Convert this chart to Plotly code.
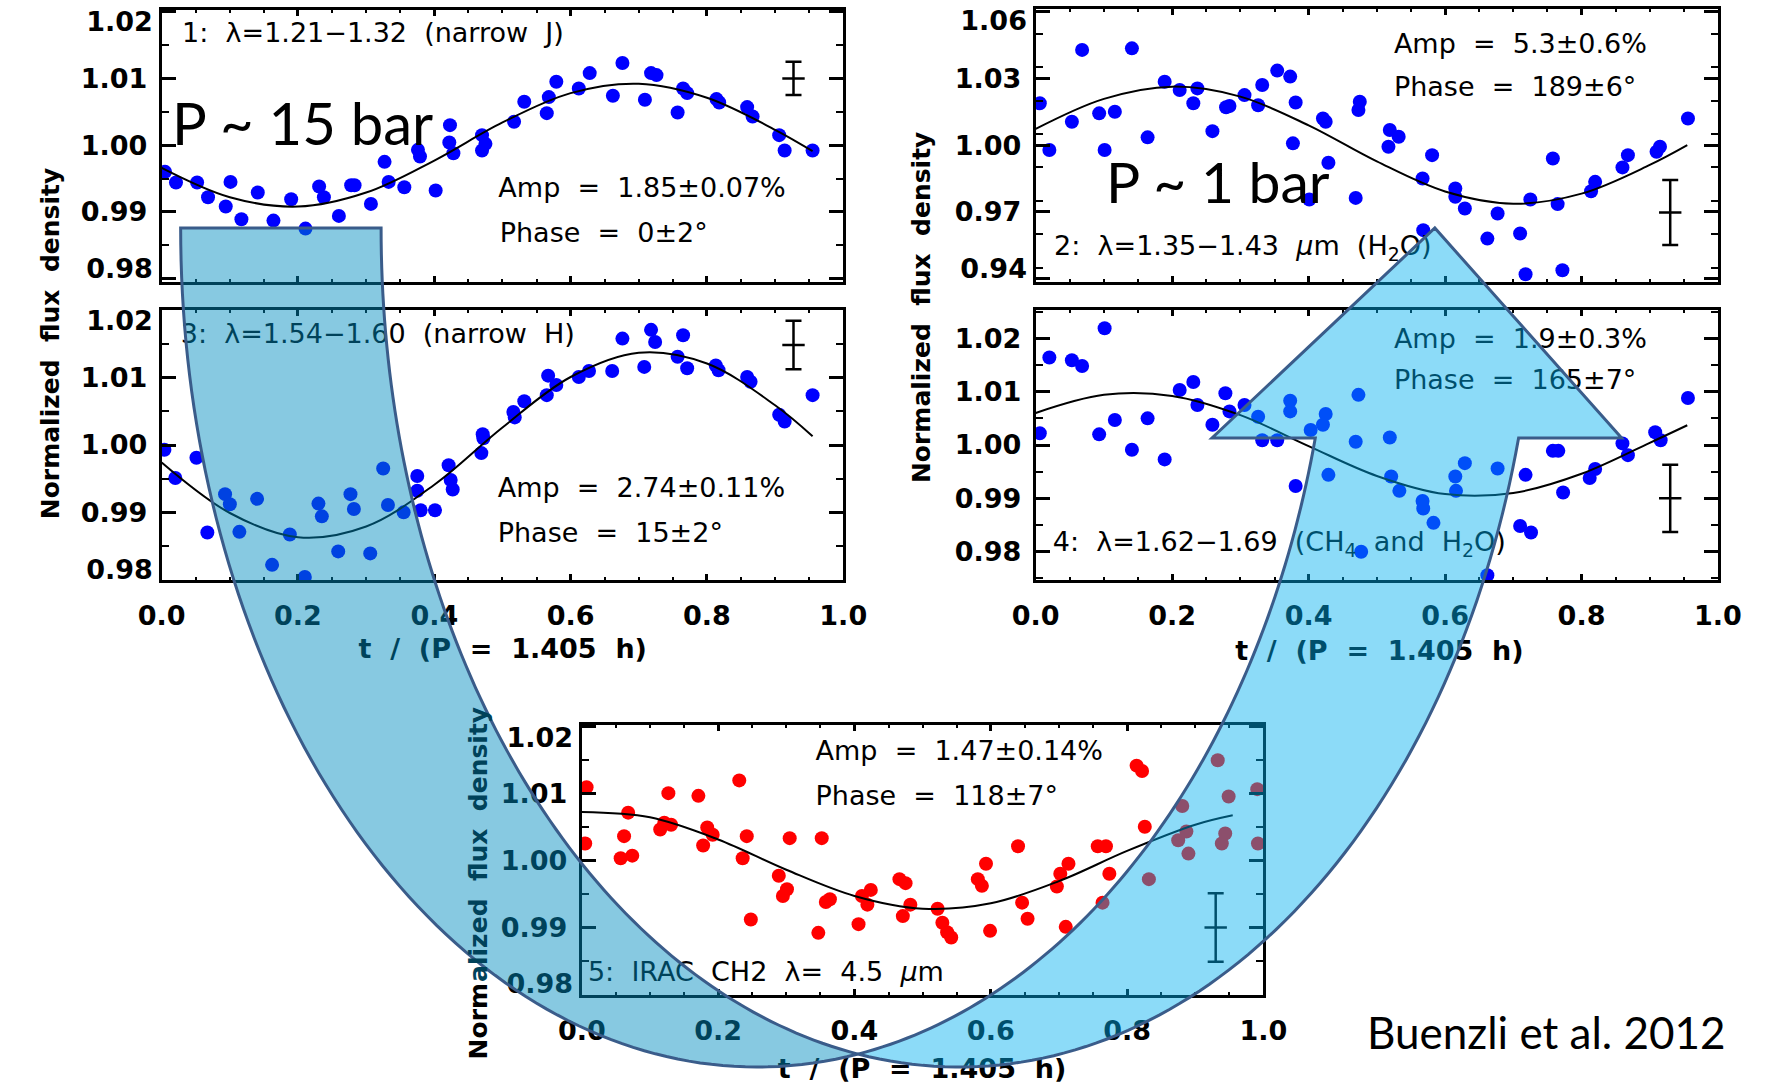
import numpy as np
import plotly.graph_objects as go

W, H = 1777, 1087

# ---------------- data ----------------
# panel 1: lambda = 1.21-1.32 (narrow J)
p1_t = [0.005,0.021,0.052,0.068,0.094,0.101,0.117,0.141,0.164,0.190,0.211,0.231,0.238,0.260,0.278,0.283,0.307,0.327,0.333,0.356,
        0.376,0.379,0.402,0.423,0.422,0.428,0.470,0.470,0.475,0.517,0.532,0.565,0.568,0.579,0.612,0.628,0.662,0.676,0.709,0.718,
        0.726,0.757,0.765,0.771,0.814,0.818,0.859,0.867,0.906,0.914,0.955]
p1_f = [0.9960,0.9944,0.9944,0.9922,0.9908,0.9945,0.9889,0.9929,0.9887,0.9919,0.9875,0.9938,0.9922,0.9894,0.9940,0.9940,0.9912,0.9975,0.9945,0.9937,
        0.9993,0.9983,0.9932,1.0030,1.0004,0.9988,1.0015,0.9992,1.0002,1.0035,1.0065,1.0048,1.0072,1.0095,1.0085,1.0108,1.0074,1.0123,1.0068,1.0108,
        1.0105,1.0049,1.0085,1.0078,1.0069,1.0064,1.0057,1.0043,1.0015,0.9992,0.9992]
# panel 2: lambda = 1.35-1.43 um (H2O)
p2_t = [0.006,0.020,0.053,0.068,0.093,0.101,0.116,0.141,0.164,0.189,0.211,0.231,0.237,0.259,0.279,0.284,0.306,0.326,0.332,0.354,
        0.373,0.377,0.381,0.401,0.421,0.425,0.429,0.469,0.473,0.475,0.519,0.517,0.532,0.567,0.568,0.581,0.615,0.615,0.629,0.662,
        0.677,0.710,0.718,0.725,0.758,0.765,0.772,0.814,0.820,0.860,0.868,0.910,0.915,0.956]
p2_f = [1.0188,0.9978,1.0105,1.0428,1.0143,0.9978,1.0150,1.0435,1.0035,1.0285,1.0248,1.0188,1.0255,1.0063,1.0170,1.0176,1.0225,1.0179,1.0270,1.0335,
        1.0308,1.0008,1.0192,0.9756,1.0120,1.0105,0.9921,0.9763,1.0158,1.0195,1.0068,0.9993,1.0038,0.9850,0.9618,0.9955,0.9805,0.9768,0.9715,0.9580,
        0.9693,0.9603,0.9420,0.9756,0.9940,0.9735,0.9438,0.9793,0.9835,0.9900,0.9955,0.9970,0.9993,1.0120]
# panel 3: lambda = 1.54-1.60 (narrow H)
p3_t = [0.004,0.020,0.051,0.067,0.093,0.100,0.114,0.140,0.162,0.188,0.210,0.230,0.235,0.259,0.277,0.282,0.306,0.325,0.332,0.355,
        0.375,0.375,0.380,0.401,0.421,0.424,0.427,0.469,0.471,0.472,0.516,0.518,0.532,0.565,0.567,0.579,0.612,0.627,0.661,0.676,
        0.708,0.718,0.724,0.757,0.765,0.771,0.813,0.817,0.859,0.864,0.906,0.914,0.955]
p3_f = [0.9993,0.9951,0.9981,0.9870,0.9927,0.9912,0.9871,0.9920,0.9822,0.9867,0.9804,0.9913,0.9894,0.9842,0.9927,0.9905,0.9839,0.9965,0.9911,0.9900,
        0.9954,0.9932,0.9903,0.9903,0.9970,0.9948,0.9934,0.9988,1.0016,1.0010,1.0049,1.0041,1.0065,1.0074,1.0103,1.0089,1.0101,1.0110,1.0110,1.0158,
        1.0116,1.0171,1.0153,1.0131,1.0163,1.0114,1.0118,1.0111,1.0101,1.0094,1.0045,1.0035,1.0074]
# panel 4: lambda = 1.62-1.69 (CH4 and H2O)
p4_t = [0.006,0.020,0.053,0.068,0.093,0.101,0.116,0.141,0.164,0.189,0.211,0.231,0.237,0.259,0.278,0.284,0.306,0.326,0.332,0.354,
        0.373,0.373,0.381,0.403,0.421,0.425,0.429,0.469,0.473,0.477,0.519,0.521,0.533,0.567,0.568,0.583,0.615,0.616,0.629,0.662,
        0.677,0.710,0.718,0.726,0.758,0.766,0.773,0.812,0.820,0.860,0.868,0.908,0.916,0.956]
p4_f = [1.0022,1.0164,1.0159,1.0148,1.0020,1.0219,1.0047,0.9991,1.0050,0.9973,1.0103,1.0118,1.0075,1.0038,1.0097,1.0063,1.0075,1.0053,1.0009,1.0009,
        1.0083,1.0063,0.9923,1.0028,1.0038,1.0058,0.9944,1.0006,1.0094,0.9800,1.0014,0.9941,0.9914,0.9895,0.9881,0.9854,0.9941,0.9914,0.9966,0.9756,
        0.9956,0.9848,0.9944,0.9836,0.9989,0.9989,0.9911,0.9938,0.9955,1.0003,0.9981,1.0024,1.0009,1.0088]
# panel 5: IRAC CH2 4.5 um
p5_t = [0.007,0.005,0.057,0.062,0.068,0.074,0.115,0.121,0.127,0.131,0.171,0.178,0.184,0.192,0.231,0.236,0.242,0.248,0.289,0.295,
        0.301,0.305,0.347,0.352,0.358,0.364,0.406,0.411,0.419,0.424,0.466,0.475,0.471,0.482,0.522,0.529,0.536,0.542,0.581,0.587,
        0.593,0.599,0.640,0.646,0.654,0.697,0.702,0.710,0.714,0.757,0.764,0.769,0.774,0.814,0.822,0.826,0.832,0.875,0.881,0.887,
        0.890,0.933,0.939,0.944,0.949,0.991,0.992]
p5_f = [1.0109,1.0025,1.0003,1.0036,1.0071,1.0007,1.0046,1.0056,1.0100,1.0053,1.0096,1.0022,1.0049,1.0038,1.0119,1.0003,1.0036,0.9912,0.9977,0.9947,
        0.9957,1.0033,0.9892,1.0033,0.9938,0.9942,0.9905,0.9947,0.9934,0.9956,0.9972,0.9966,0.9917,0.9934,0.9928,0.9907,0.9893,0.9885,0.9972,0.9962,
        0.9995,0.9895,1.0021,0.9937,0.9913,0.9961,0.9980,0.9901,0.9995,1.0021,0.9937,1.0021,0.9980,1.0141,1.0133,1.0050,0.9972,1.0030,1.0081,1.0043,
        1.0010,1.0149,1.0025,1.0040,1.0095,1.0106,1.0025]

# fitted curves, read at these phases
fit_t = [0.0, 0.1, 0.2, 0.3, 0.4, 0.5, 0.6, 0.7, 0.8, 0.9, 0.955]
fit1 = [0.9966,0.9922,0.9908,0.9929,0.9977,1.0034,1.0078,1.0092,1.0071,1.0023,0.9991]
fit2 = [1.0073,1.0208,1.0263,1.0218,1.0089,0.9927,0.9792,0.9737,0.9782,0.9911,1.0000]
fit3 = [0.9974,0.9899,0.9863,0.9879,0.9941,1.0026,1.0101,1.0137,1.0121,1.0059,1.0013]
fit4 = [1.0060,1.0094,1.0092,1.0056,0.9998,0.9942,0.9908,0.9910,0.9946,1.0004,1.0037]
fit5 = [1.0072,1.0064,1.0031,0.9986,0.9947,0.9928,0.9936,0.9969,1.0014,1.0053,1.0067]

# typical error bars (x, centre, half-length)
err_x = [0.927, 0.930, 0.927, 0.930, 0.930]
err_y = [1.0100, 0.9697, 1.01485, 0.9900, 0.9900]
err_h = [0.0025, 0.0146, 0.0036, 0.0063, 0.0051]

# panel labels
band_labels = ["1:  λ=1.21−1.32  (narrow  J)",
               "2:  λ=1.35−1.43  <i>μ</i>m  (H<sub>2</sub>O)",
               "3:  λ=1.54−1.60  (narrow  H)",
               "4:  λ=1.62−1.69  (CH<sub>4</sub>  and  H<sub>2</sub>O)",
               "5:  IRAC  CH2  λ=  4.5  <i>μ</i>m"]
amp_labels = ["Amp  =  1.85±0.07%", "Amp  =  5.3±0.6%", "Amp  =  2.74±0.11%",
              "Amp  =  1.9±0.3%", "Amp  =  1.47±0.14%"]
phase_labels = ["Phase  =  0±2°", "Phase  =  189±6°", "Phase  =  15±2°",
                "Phase  =  165±7°", "Phase  =  118±7°"]
band_pos = [(0.030, 1.0165), (0.027, 0.9535), (0.028, 1.0161), (0.025, 0.98137), (0.009, 0.98302)]
amp_pos = [(0.494, 0.99325), (0.525, 1.04425), (0.493, 0.99332), (0.525, 1.01938), (0.343, 1.01594)]
phase_pos = [(0.496, 0.98650), (0.525, 1.02505), (0.493, 0.98653), (0.525, 1.01175), (0.343, 1.00926)]

x_title = "t  /  (P  =  1.405  h)"
y_title = "Normalized  flux  density"

x_ticks = [0.0, 0.2, 0.4, 0.6, 0.8, 1.0]
y_ticks = [[0.98, 0.99, 1.00, 1.01, 1.02], [0.94, 0.97, 1.00, 1.03, 1.06], [0.98, 0.99, 1.00, 1.01, 1.02],
           [0.98, 0.99, 1.00, 1.01, 1.02], [0.98, 0.99, 1.00, 1.01, 1.02]]
y_ranges = [[0.9795, 1.02025], [0.9385, 1.06105], [0.97995, 1.02005], [0.97469, 1.02531], [0.97995, 1.02015]]
y_minor = [0.005, 0.015, 0.005, 0.005, 0.005]
# the end labels sit a little inside the frame (pixels, +down) where the end tick is on the frame
edge_shift = [(13, -7), (12, -7), (13, -7), None, (14, -8)]

# ---------------- layout geometry (pixels of the 1777x1087 page) ----------------
boxes = [  # (left, right, top, bottom)
    (141.5, 842.0, 10.0, 282.0),
    (1039.8, 1741.0, 9.3, 282.0),
    (141.5, 842.0, 310.0, 580.0),
    (1039.8, 1741.0, 310.0, 580.0),
    (573.3, 1273.8, 725.0, 995.0),
]
# x-title centres (page pixels), drawn in a page-sized overlay so the arrow tints them
x_title_px = [(492, 651), (1393, 653), (923, 1071)]

def px(x):
    return x / W

def py(y):
    return 1 - y / H

FONT = "DejaVu Sans"
TICKFONT = dict(family=FONT, size=27, color='black', weight='bold')
series = [(p1_t, p1_f, fit1, 'rgb(0,0,255)'), (p2_t, p2_f, fit2, 'rgb(0,0,255)'),
          (p3_t, p3_f, fit3, 'rgb(0,0,255)'), (p4_t, p4_f, fit4, 'rgb(0,0,255)'),
          (p5_t, p5_f, fit5, 'rgb(255,0,0)')]

fig = go.Figure()
layout_axes = {}
edge_x, edge_y, edge_txt = [], [], []
for i, (t, f, fit, col) in enumerate(series):
    n = i + 1
    xa = 'x' if n == 1 else f'x{n}'
    ya = 'y' if n == 1 else f'y{n}'
    fig.add_trace(go.Scatter(x=t, y=f, mode='markers', xaxis=xa, yaxis=ya,
                             marker=dict(color=col, size=14, line=dict(width=0)),
                             showlegend=False, hoverinfo='skip'))
    fig.add_trace(go.Scatter(x=fit_t, y=fit, mode='lines', xaxis=xa, yaxis=ya,
                             line=dict(color='black', width=2, shape='spline'),
                             showlegend=False, hoverinfo='skip'))
    fig.add_trace(go.Scatter(x=[err_x[i]], y=[err_y[i]], mode='markers', xaxis=xa, yaxis=ya,
                             marker=dict(symbol='line-ew', size=16, color='black',
                                         line=dict(width=2.5, color='black')),
                             error_y=dict(type='data', array=[err_h[i]], visible=True,
                                          color='black', thickness=2.5, width=8),
                             showlegend=False, hoverinfo='skip'))
    fig.add_trace(go.Scatter(
        x=[band_pos[i][0], amp_pos[i][0], phase_pos[i][0]],
        y=[band_pos[i][1], amp_pos[i][1], phase_pos[i][1]],
        text=[band_labels[i], amp_labels[i], phase_labels[i]],
        mode='text', textposition='middle right', xaxis=xa, yaxis=ya,
        textfont=dict(family=FONT, size=27, color='black'),
        cliponaxis=False, showlegend=False, hoverinfo='skip'))

    l, r, tp, bt = boxes[i]
    lo_r, hi_r = y_ranges[i]
    yt = y_ticks[i]
    ytext = [f"{v:.2f}" for v in yt]
    if edge_shift[i] is not None:
        # inner labels by the axis; the two end labels are placed just inside
        ytext_axis = [""] + ytext[1:-1] + [""]
        for v, s, lab in [(yt[-1], edge_shift[i][0], ytext[-1]), (yt[0], edge_shift[i][1], ytext[0])]:
            edge_x.append(l - 9)
            edge_y.append(tp + (hi_r - v) / (hi_r - lo_r) * (bt - tp) + s)
            edge_txt.append(lab)
    else:
        ytext_axis = ytext
    axis_common = dict(showline=True, linewidth=3, linecolor='black', mirror='ticks',
                       ticks='inside', tickcolor='black', showgrid=False, zeroline=False,
                       tickfont=TICKFONT)
    layout_axes['xaxis' if n == 1 else f'xaxis{n}'] = dict(
        axis_common, domain=[px(l), px(r)], anchor=ya, range=[0, 1],
        tickvals=x_ticks, tickformat='.1f', ticklen=6, tickwidth=2.5,
        minor=dict(dtick=0.05, ticklen=3, tickwidth=2, ticks='inside', tickcolor='black'),
        showticklabels=(n in (3, 4, 5)), ticklabelstandoff=10)
    layout_axes['yaxis' if n == 1 else f'yaxis{n}'] = dict(
        axis_common, domain=[py(bt), py(tp)], anchor=xa, range=y_ranges[i],
        tickvals=yt, ticktext=ytext_axis, ticklen=14, tickwidth=2.5,
        minor=dict(dtick=y_minor[i], ticklen=7, tickwidth=2, ticks='inside', tickcolor='black'),
        ticklabelstandoff=6)

# page-sized invisible overlay (pixel units): x titles and the end tick labels
fig.add_trace(go.Scatter(x=[p[0] for p in x_title_px], y=[p[1] for p in x_title_px],
                         text=[x_title] * 3, mode='text', textposition='middle center',
                         xaxis='x6', yaxis='y6',
                         textfont=dict(family=FONT, size=27, color='black', weight='bold'),
                         cliponaxis=False, showlegend=False, hoverinfo='skip'))
fig.add_trace(go.Scatter(x=edge_x, y=edge_y, text=edge_txt, mode='text', textposition='middle left',
                         xaxis='x6', yaxis='y6', textfont=TICKFONT,
                         cliponaxis=False, showlegend=False, hoverinfo='skip'))
layout_axes['xaxis6'] = dict(domain=[0, 1], range=[0, W], visible=False, anchor='y6',
                             showgrid=False, zeroline=False, fixedrange=True)
layout_axes['yaxis6'] = dict(domain=[0, 1], range=[H, 0], visible=False, anchor='x6',
                             showgrid=False, zeroline=False, fixedrange=True)

# ---------------- y axis titles ----------------
annotations = []
YT_FONT = dict(family=FONT, size=25, color='black', weight='bold')
for (x0, y0) in [(27, 343), (922, 307)]:
    annotations.append(dict(x=px(x0), y=py(y0), xref='paper', yref='paper', text=y_title,
                            textangle=-90, showarrow=False, xanchor='center', yanchor='middle',
                            font=YT_FONT))
# panel 5 title: lower part outside the arrow, upper part seen through it
annotations.append(dict(x=px(467), y=py(1060), xref='paper', yref='paper', text=y_title[:4],
                        textangle=-90, showarrow=False, xanchor='center', yanchor='bottom',
                        borderpad=0, font=YT_FONT))
annotations.append(dict(x=px(467), y=py(983), xref='paper', yref='paper', text=y_title[4:],
                        textangle=-90, showarrow=False, xanchor='center', yanchor='bottom',
                        borderpad=0, font=dict(YT_FONT, color='rgb(0,66,90)')))

annotations.append(dict(x=px(150), y=py(122), xref='paper', yref='paper', text="P ~ 15 bar",
                        showarrow=False, xanchor='left', yanchor='middle',
                        font=dict(family="Lato", size=58, color='black')))
annotations.append(dict(x=px(1110), y=py(181), xref='paper', yref='paper', text="P ~ 1 bar",
                        showarrow=False, xanchor='left', yanchor='middle',
                        font=dict(family="Lato", size=57, color='black')))
annotations.append(dict(x=px(1378), y=py(1032), xref='paper', yref='paper', text="Buenzli et al. 2012",
                        showarrow=False, xanchor='left', yanchor='middle',
                        font=dict(family="Lato", size=44, color='black')))

# ---------------- curved up arrow (two ellipses) ----------------
E1 = (753.5, 228.0, 592.5, 839.0)
E2 = (961.0, 228.0, 594.0, 839.0)

def ept(E, th_deg):
    cx, cy, rx, ry = E
    th = np.radians(th_deg)
    return cx + rx * np.cos(th), cy + ry * np.sin(th)

def lower_y(E, x):
    cx, cy, rx, ry = E
    return cy + ry * np.sqrt(max(0.0, 1 - ((x - cx) / rx) ** 2))

lo, hi = 800.0, 920.0
for _ in range(60):
    mid = 0.5 * (lo + hi)
    if lower_y(E1, mid) - lower_y(E2, mid) > 0:
        lo = mid
    else:
        hi = mid
xc = 0.5 * (lo + hi)
th1c = np.degrees(np.arccos((xc - E1[0]) / E1[2]))
th2c = np.degrees(np.arccos((xc - E2[0]) / E2[2]))
base_y = 438.0
tha = np.degrees(np.arcsin((base_y - E1[1]) / E1[3]))

def path_from(points):
    return "M " + " L ".join(f"{px(x):.5f},{py(y):.5f}" for x, y in points) + " Z"

tail = [ept(E1, a) for a in np.linspace(180, th1c, 90)] + \
       [ept(E2, a) for a in np.linspace(th2c, 180, 90)]
front = [ept(E1, a) for a in np.linspace(th1c, tha, 80)]
front += [(1221.0, base_y), (1450.0, 228.0), (1642.0, base_y)]
front += [ept(E2, a) for a in np.linspace(tha, th2c, 80)]

OUTLINE = 'rgb(58,92,138)'
shapes = [
    dict(type='path', path=path_from(tail), xref='paper', yref='paper', layer='above',
         fillcolor='rgba(0,141,192,0.47)', line=dict(color=OUTLINE, width=3)),
    dict(type='path', path=path_from(front), xref='paper', yref='paper', layer='above',
         fillcolor='rgba(0,176,240,0.45)', line=dict(color=OUTLINE, width=3)),
]

fig.update_layout(
    width=W, height=H, autosize=False,
    margin=dict(l=0, r=0, t=0, b=0, pad=0),
    paper_bgcolor='white', plot_bgcolor='rgba(0,0,0,0)',
    showlegend=False, hovermode=False,
    annotations=annotations, shapes=shapes,
    **layout_axes,
)

fig.write_html("out.html", config={'displayModeBar': False},
               post_script="document.body.style.margin='0px';")
